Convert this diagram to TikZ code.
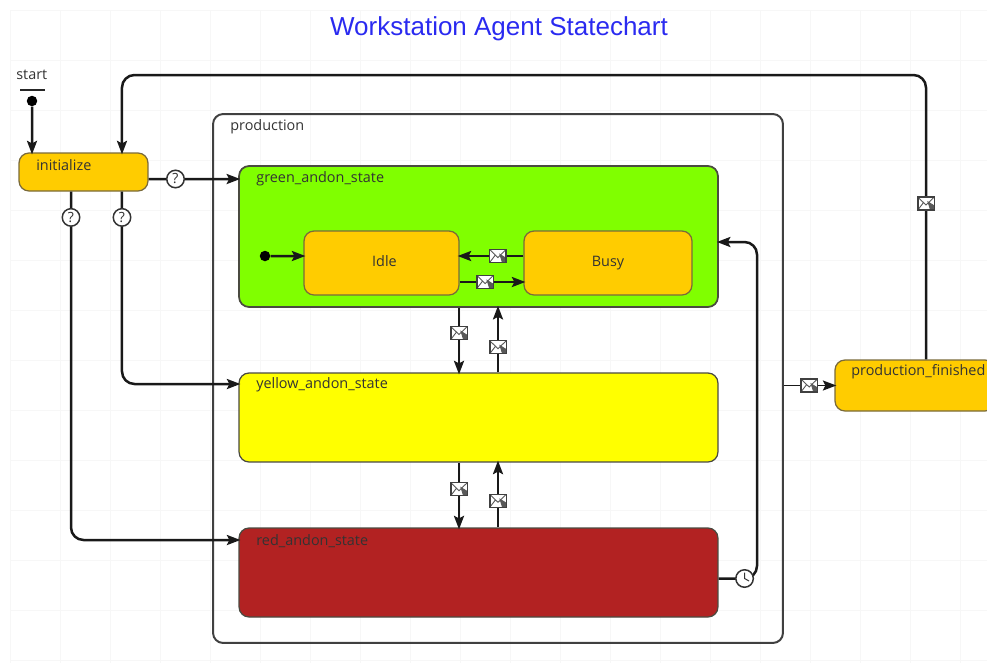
\documentclass[tikz,border=0pt]{standalone}
\usepackage{fontspec}
\setmainfont{Open Sans}
\newfontfamily\titlefont{Liberation Sans}
\usetikzlibrary{arrows.meta}

\definecolor{stateorange}{HTML}{FFCC00}
\definecolor{stategreen}{HTML}{80FF00}
\definecolor{stateyellow}{HTML}{FFFF00}
\definecolor{statered}{HTML}{B22222}
\definecolor{stateedge}{HTML}{4A4A40}
\definecolor{leafedge}{HTML}{7A6A3A}
\definecolor{titleblue}{HTML}{2A2AF0}

\tikzset{
    state/.style={draw=stateedge, line width=0.035cm, rounded corners=0.2cm, inner sep=0pt},
    leafstate/.style={state, draw=leafedge, line width=0.025cm, fill=stateorange},
    flow/.style={line width=0.05cm, black!90, -{Stealth[length=0.27cm,width=0.2cm,inset=0.05cm]}, rounded corners=0.25cm, shorten >=-0.04cm},
    statetext/.style={anchor=west, inner sep=0pt, font=\fontsize{8.2}{10}\selectfont, text=black!80},
    dot/.style={circle, fill=black, inner sep=0pt, minimum size=0.21cm},
    msgbox/.style={draw=black!75, fill=white, line width=0.03cm, inner sep=0pt, minimum width=0.33cm, minimum height=0.26cm, sharp corners,
        path picture={\draw[black!65, line width=0.018cm]
            (path picture bounding box.north west) -- ([yshift=-0.03cm]path picture bounding box.center) -- (path picture bounding box.north east)
            (path picture bounding box.south west) -- ([xshift=-0.05cm,yshift=0.02cm]path picture bounding box.center)
            (path picture bounding box.south east) -- ([xshift=0.05cm,yshift=0.02cm]path picture bounding box.center);}},
    guard/.style={circle, draw=black!80, fill=white, line width=0.03cm, inner sep=0pt, minimum size=0.35cm, font=\fontsize{8}{9}\selectfont, text=black!80, sharp corners},
    timer/.style={circle, draw=black!80, fill=white, line width=0.03cm, inner sep=0pt, minimum size=0.35cm, sharp corners,
        path picture={\draw[black!80, line width=0.02cm]
            ([yshift=0.12cm]path picture bounding box.center) -- (path picture bounding box.center) -- ++(0.09cm,-0.05cm);}}
}

\begin{document}
\begin{tikzpicture}[x=0.02cm, y=-0.02cm]
    \useasboundingbox (0,0) rectangle (987,663);

    % faint sheet grid
    \foreach \gx in {10,60,...,960} {
        \draw[black!3, line width=0.015cm] (\gx,10) -- (\gx,663);
    }
    \foreach \gy in {10,60,...,660} {
        \draw[black!3, line width=0.015cm] (10,\gy) -- (987,\gy);
    }

    \node (title) at (499,29) {\titlefont\fontsize{14.8}{17}\selectfont\textcolor{titleblue}{Workstation Agent Statechart}};

    % states
    \node (production) at (498,378.5) [state, draw=black!75, line width=0.04cm, minimum width=11.4cm, minimum height=10.58cm] {};
    \node (init) at (83.5,172) [leafstate, minimum width=2.58cm, minimum height=0.76cm] {};
    \node (green) at (478.5,236.5) [state, fill=stategreen, minimum width=9.58cm, minimum height=2.82cm] {};
    \node (yellow) at (478.5,417.5) [state, fill=stateyellow, line width=0.025cm, minimum width=9.58cm, minimum height=1.78cm] {};
    \node (red) at (478.5,572.5) [state, fill=statered, line width=0.025cm, minimum width=9.58cm, minimum height=1.78cm] {};
    \node (idle) at (381.5,263) [leafstate, minimum width=3.1cm, minimum height=1.28cm] {};
    \node (busy) at (608,263) [leafstate, minimum width=3.36cm, minimum height=1.28cm] {};
    \node (finished) at (915,385.5) [leafstate, minimum width=3.2cm, minimum height=1.02cm] {};

    % state texts
    \node (starttext) at (16,75) [statetext] {start};
    \node (inittext) at (36,165) [statetext] {initialize};
    \node (prodtext) at (230,127) [statetext] {production};
    \node (greentext) at (256,179) [statetext] {green\_andon\_state};
    \node (yellowtext) at (256,385) [statetext] {yellow\_andon\_state};
    \node (redtext) at (256,541) [statetext] {red\_andon\_state};
    \node (idletext) at ([xshift=0.06cm,yshift=0.04cm]idle) [statetext, anchor=center] {Idle};
    \node (busytext) at (busy) [statetext, anchor=center] {Busy};
    \node (finishedtext) at (851,372) [statetext] {production\_finished};

    % start points
    \coordinate (startbar) at (32,90);
    \draw[black!85, line width=0.04cm] ([xshift=-0.24cm]startbar) -- ([xshift=0.26cm]startbar);
    \node (startdot) at (32,101) [dot] {};
    \node (idledot) at (265,256) [dot] {};
    \coordinate (topline) at (500,75);
    \coordinate (rightline) at (757,400);

    % transitions
    \draw[flow] (startdot) -- ([xshift=-1.03cm]init.north);
    \draw[flow] (idledot) -- ([yshift=0.14cm]idle.west);
    \draw[flow] ([xshift=0.22cm]finished.north) |- node[msgbox, pos=0.274] (msgback) {} (topline) -| ([xshift=0.77cm]init.north);
    \draw[flow] ([yshift=-0.14cm]init.east) -- node[guard, pos=0.3] (guardgreen) {?} ([yshift=1.15cm]green.west);
    \draw[flow] ([xshift=0.77cm]init.south) |- node[guard, pos=0.067] (guardyellow) {?} ([yshift=0.67cm]yellow.west);
    \draw[flow] ([xshift=-0.25cm]init.south) |- node[guard, pos=0.037] (guardred) {?} ([yshift=0.65cm]red.west);
    \draw[flow] ([yshift=0.14cm]busy.west) -- node[msgbox, pos=0.4] (msgbusy) {} ([yshift=0.14cm]idle.east);
    \draw[flow] ([yshift=-0.38cm]idle.east) -- node[msgbox, pos=0.4] (msgidle) {} ([yshift=-0.38cm]busy.west);
    \draw[flow] ([xshift=-0.39cm]green.south) -- node[msgbox, pos=0.39] (msggy) {} ([xshift=-0.39cm]yellow.north);
    \draw[flow] ([xshift=0.39cm]yellow.north) -- node[msgbox, pos=0.39] (msgyg) {} ([xshift=0.39cm]green.south);
    \draw[flow] ([xshift=-0.39cm]yellow.south) -- node[msgbox, pos=0.41] (msgyr) {} ([xshift=-0.39cm]red.north);
    \draw[flow] ([xshift=0.39cm]red.north) -- node[msgbox, pos=0.41] (msgry) {} ([xshift=0.39cm]yellow.south);
    \draw[flow] ([yshift=-0.12cm]red.east) -| (rightline) |- ([yshift=-0.11cm]green.east);
    \node (clock) at ([xshift=0.52cm,yshift=-0.12cm]red.east) [timer] {};
    \draw[flow, line width=0.035cm] (production.east |- finished.west) -- node[msgbox, pos=0.5] (msgdone) {} (finished.west);
\end{tikzpicture}
\end{document}
